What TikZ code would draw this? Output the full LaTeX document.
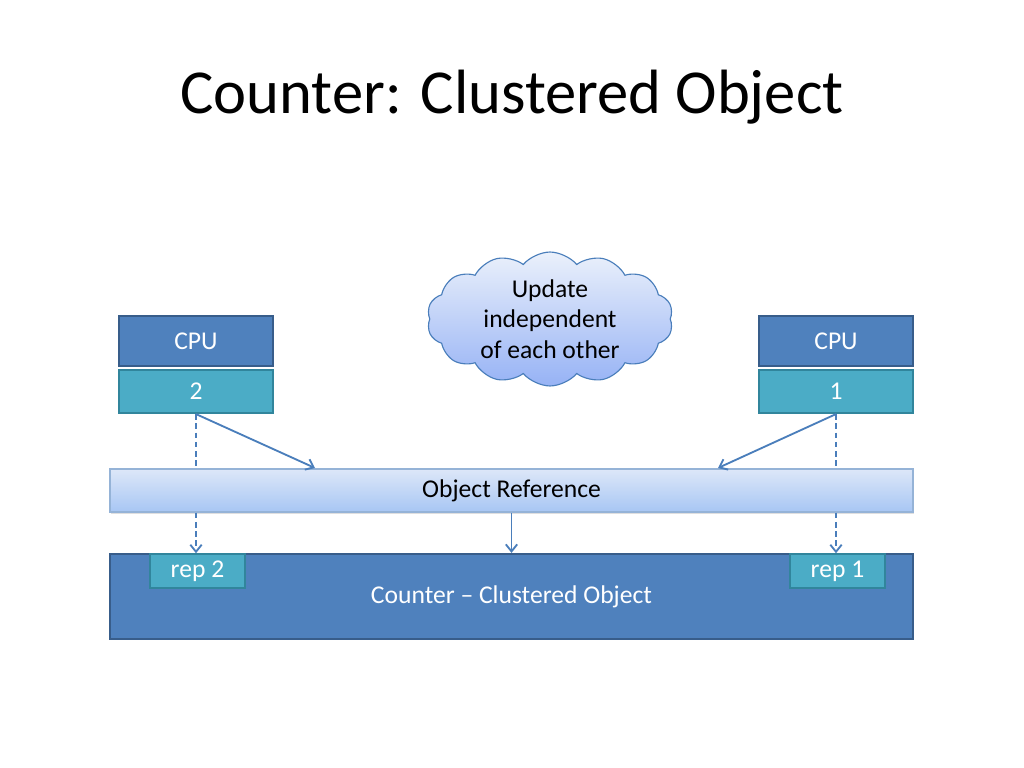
\documentclass[tikz,border=0pt]{standalone}
\usepackage{fontspec}
\setmainfont{Carlito}
\usepackage{tikz}
\usetikzlibrary{arrows.meta, positioning, shadows, shapes.symbols, calc}
\def\pxu{0.703125pt}

\definecolor{cpublue}{HTML}{4F81BD}
\definecolor{cpuedge}{HTML}{385D8A}
\definecolor{repteal}{HTML}{4BACC6}
\definecolor{repedge}{HTML}{31859C}
\definecolor{linkblue}{HTML}{4A7EBB}
\definecolor{bartop}{HTML}{DDE7F8}
\definecolor{barbottom}{HTML}{A7C6F4}
\definecolor{baredge}{HTML}{95B3D7}

\begin{document}
\begin{tikzpicture}[
    x=\pxu, y=-\pxu,
    font=\fontsize{18}{21.6}\selectfont,
    % Node styles
    cpubox/.style={rectangle, draw=cpuedge, fill=cpublue, line width=1.5pt, text=white, inner sep=0pt, minimum width=154*\pxu, minimum height=50*\pxu},
    numbox/.style={rectangle, draw=repedge, fill=repteal, line width=1.5pt, text=white, inner sep=0pt, minimum width=154*\pxu, minimum height=43*\pxu},
    repbox/.style={rectangle, draw=repedge, fill=repteal, line width=1pt, text=white, inner sep=0pt, minimum width=95*\pxu, minimum height=34*\pxu},
    refbar/.style={rectangle, draw=baredge, top color=bartop, bottom color=barbottom, line width=0.8pt, inner sep=0pt, minimum width=803*\pxu, minimum height=43*\pxu, drop shadow={shadow xshift=1pt, shadow yshift=-1.5pt, opacity=0.25}},
    arrow/.style={-{Straight Barb[length=5pt, width=8pt]}, draw=linkblue, line width=1.3pt},
    dashlink/.style={dash pattern=on 4pt off 2.5pt, draw=linkblue, line width=1.3pt},
]

\useasboundingbox (0,0) rectangle (1024,768);

% Title
\node[font=\fontsize{44}{50}\selectfont] (title) at (512, 97) {Counter: Clustered Object};

% ============================================================================
% CPUS
% ============================================================================
\node[cpubox] (cpuL) at (196, 341) {CPU};
\node[numbox] (numL) at (196, 391.5) {2};
\node[cpubox] (cpuR) at (836, 341) {CPU};
\node[numbox] (numR) at (836, 391.5) {1};

% Cloud
\node[cloud, cloud puffs=14, cloud puff arc=100, aspect=2.1, draw=linkblue, line width=0.8pt,
      top color=bartop!60!white, bottom color=barbottom!90!blue, inner sep=0pt,
      minimum width=246*\pxu, minimum height=126*\pxu, align=center] (note) at (550, 319)
    {Update\\independent\\of each other};

% ============================================================================
% OBJECT REFERENCE
% ============================================================================
\node[refbar] (objref) at (511.5, 490.5) {Object Reference};

% dashed drops down to the bar
\draw[dashlink] (numL.south) -- (objref.north -| numL.south);
\draw[dashlink] (numR.south) -- (objref.north -| numR.south);

% ============================================================================
% COUNTER
% ============================================================================
\node[rectangle, draw=cpuedge, fill=cpublue, line width=1.5pt, text=white, inner sep=0pt,
      minimum width=803*\pxu, minimum height=85*\pxu] (counter) at (511.5, 596.5)
    {Counter -- Clustered Object};
\node[repbox] (rep2) at (197.5, 571) {rep 2};
\node[repbox] (rep1) at (837.5, 571) {rep 1};

% Arrows
\coordinate (hitL) at (315, 468);
\coordinate (hitR) at (718, 468);
\draw[arrow] (numL.south) -- (hitL);
\draw[arrow] (numR.south) -- (hitR);
\draw[arrow, dashlink] (objref.south -| numL.south) -- (rep2.north -| numL.south);
\draw[arrow, dashlink] (objref.south -| numR.south) -- (rep1.north -| numR.south);
\draw[arrow] (objref.south) -- (counter.north);

\end{tikzpicture}
\end{document}
